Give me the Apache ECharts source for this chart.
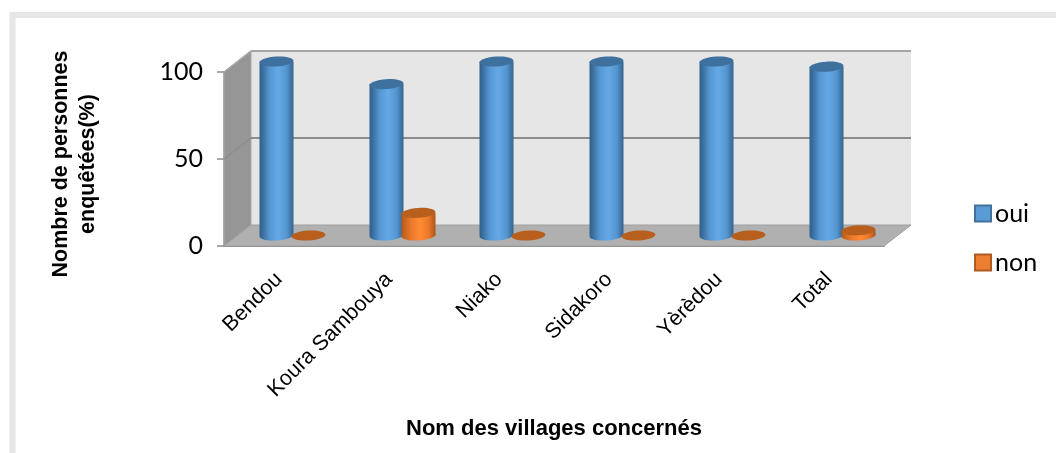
<!DOCTYPE html>
<html>
<head>
<meta charset="utf-8">
<style>html,body{margin:0;padding:0;background:#fff}#c{width:1056px;height:453px}</style>
<script src="https://cdn.jsdelivr.net/npm/echarts@6/dist/echarts.min.js"></script>
</head>
<body>
<div id="c"></div>
<script>
const categories = ['Bendou', 'Koura Sambouya', 'Niako', 'Sidakoro', 'Yèrèdou', 'Total'];
const oui = [100, 87, 100, 100, 100, 97];
const non = [0, 13, 0, 0, 0, 3];
const yTicks = [0, 50, 100];

const DX = 27, DY = -21;            // depth of the 3D box
const MX = 13.5, MY = -10.5;        // bars stand mid depth
const RX = 17, RY = 5, TILT = 0.06;

function hGrad(stops) {
  return { type: 'linear', x: 0, y: 0, x2: 1, y2: 0,
    colorStops: stops.map(s => ({ offset: s[0], color: s[1] })) };
}
const blue = hGrad([[0,'#2f5f8c'],[0.1,'#3b6f9f'],[0.3,'#5597d3'],[0.55,'#64a9e6'],[0.8,'#5495cf'],[0.93,'#3f74a6'],[1,'#33648f']]);
const orange = hGrad([[0,'#b05a1c'],[0.1,'#c9661f'],[0.3,'#ec7a2b'],[0.55,'#ff8a33'],[0.8,'#e97829'],[0.93,'#c2621e'],[1,'#a9551a']]);

function cylinder(offset, fill, topColor) {
  return function (params, api) {
    const i = api.value(0), v = api.value(1);
    const t = api.coord([i, v]), b = api.coord([i, 0]);
    const cx = b[0] + MX + offset, yb = b[1] + MY, yt = t[1] + MY;
    const ell = (y, style) => ({ type: 'ellipse', x: cx, y: y, rotation: TILT,
      shape: { cx: 0, cy: 0, rx: RX, ry: RY }, style: style });
    const kids = [];
    if (v > 0) {
      kids.push(ell(yb, { fill: fill }));
      kids.push({ type: 'rect', shape: { x: cx - RX, y: yt, width: RX * 2, height: yb - yt }, style: { fill: fill } });
    }
    kids.push(ell(yt, { fill: topColor }));
    return { type: 'group', children: kids };
  };
}

function frame(params, api) {
  const g = params.coordSys, x0 = g.x, x1 = g.x + g.width;
  const y0 = api.coord([0, yTicks[0]])[1], yN = api.coord([0, yTicks[yTicks.length - 1]])[1];
  const poly = (pts, fill, stroke, w) => ({ type: 'polygon', shape: { points: pts },
    style: { fill: fill, stroke: stroke, lineWidth: w } });
  const kids = [
    poly([[x0 + DX, yN + DY], [x1 + DX, yN + DY], [x1 + DX, y0 + DY], [x0 + DX, y0 + DY]], '#e6e6e6', null, 0),
    poly([[x0, yN], [x0 + DX, yN + DY], [x0 + DX, y0 + DY], [x0, y0]], '#969696', '#a8a8a8', 1),
    poly([[x0, y0], [x0 + DX, y0 + DY], [x1 + DX, y0 + DY], [x1, y0]], '#b0b0b0', '#a0a0a0', 1)
  ];
  yTicks.forEach(tv => {
    const y = api.coord([0, tv])[1];
    const c = tv === yTicks[yTicks.length - 1] ? '#a6a6a6' : '#8c8c8c';
    if (tv !== yTicks[0]) {
      kids.push({ type: 'line', shape: { x1: x0 + DX, y1: y + DY, x2: x1 + DX, y2: y + DY }, style: { stroke: c, lineWidth: 2 } });
      kids.push({ type: 'line', shape: { x1: x0, y1: y, x2: x0 + DX, y2: y + DY }, style: { stroke: c, lineWidth: 1.5 } });
    }
  });
  return { type: 'group', children: kids };
}

const chart = echarts.init(document.getElementById('c'), null, { renderer: 'canvas' });
chart.setOption({
  animation: false,
  backgroundColor: '#fff',
  graphic: [
    { type: 'polyline', silent: true, z: -1, shape: { points: [[12.5, 453], [12.5, 15], [1056, 15]] },
      style: { fill: null, stroke: '#e6e6e6', lineWidth: 6 } }
  ],
  grid: { left: 224, right: 172, top: 72, bottom: 207 },
  legend: {
    data: ['oui', 'non'], orient: 'vertical', left: 969, top: 196,
    icon: 'rect', itemWidth: 16, itemHeight: 16, itemGap: 24,
    textStyle: { fontFamily: 'Lato', fontSize: 25, color: '#000', padding: [0, 0, 0, -1] }
  },
  xAxis: {
    type: 'category', data: categories,
    name: 'Nom des villages concernés', nameLocation: 'middle', nameGap: 172,
    nameTextStyle: { fontFamily: 'Liberation Sans', fontWeight: 'bold', fontSize: 22, color: '#000' },
    axisLine: { lineStyle: { color: '#8c8c8c', width: 2 } },
    axisTick: { show: false },
    axisLabel: { rotate: 45, interval: 0, margin: 30, fontFamily: 'Liberation Sans', fontSize: 21.5, color: '#000' }
  },
  yAxis: {
    type: 'value', min: 0, max: 100, interval: 50,
    name: 'Nombre de personnes\nenquêtées(%)', nameLocation: 'middle', nameGap: 122, nameRotate: 90,
    nameTextStyle: { fontFamily: 'Liberation Sans', fontWeight: 'bold', fontSize: 21.5, color: '#000', lineHeight: 27, padding: [0, 10, 0, 0] },
    axisLine: { show: true, lineStyle: { color: '#9a9a9a', width: 1.5 } },
    axisTick: { show: true, length: 7, lineStyle: { color: '#8c8c8c', width: 1.5 } },
    axisLabel: { margin: 21, fontFamily: 'Lato', fontSize: 25, color: '#000' },
    splitLine: { show: false }
  },
  series: [
    { name: 'frame', type: 'custom', silent: true, z: 1, renderItem: frame, clip: false,
      data: [[0, 0]], encode: { x: 0, y: 1 } },
    { name: 'oui', type: 'custom', z: 2, clip: false, itemStyle: { color: '#5b9bd5', borderColor: '#41719c', borderWidth: 1 },
      renderItem: cylinder(-16, blue, '#3f719f'),
      data: oui.map((v, i) => [i, v]), encode: { x: 0, y: 1 } },
    { name: 'non', type: 'custom', z: 3, clip: false, itemStyle: { color: '#ed7d31', borderColor: '#ae5a21', borderWidth: 1 },
      renderItem: cylinder(16, orange, '#b85f1e'),
      data: non.map((v, i) => [i, v]), encode: { x: 0, y: 1 } }
  ]
});
</script>
</body>
</html>
